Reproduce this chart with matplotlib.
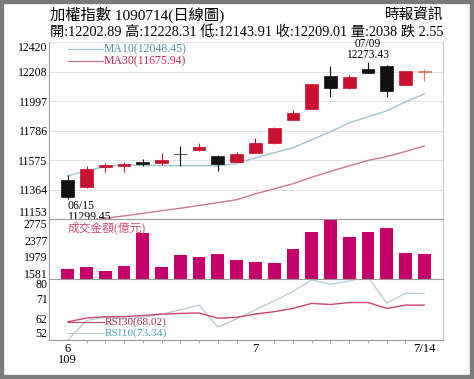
import matplotlib
matplotlib.use('Agg')
import matplotlib.pyplot as plt
from matplotlib.patches import Rectangle
import numpy as np

plt.rcParams['font.family'] = ['Liberation Serif', 'Noto Sans CJK TC']

# 加權指數 日線資料 (6/15 ~ 7/14)
dates = ['06/15', '06/16', '06/17', '06/18', '06/19', '06/22', '06/23', '06/24', '06/29', '06/30',
         '07/01', '07/02', '07/03', '07/06', '07/07', '07/08', '07/09', '07/10', '07/13', '07/14']
opens = [11434, 11379, 11522, 11532, 11560, 11555, 11618, 11648, 11607, 11564,
         11625, 11696, 11863, 11943, 12179, 12089, 12225, 12251, 12113, 12202.89]
highs = [11469, 11534, 11557, 11564, 11584, 11625, 11677, 11700, 11610, 11632,
         11732, 11812, 11934, 12122, 12249, 12184, 12273.43, 12255, 12215, 12228.31]
lows = [11299.45, 11375, 11486, 11491, 11534, 11541, 11529, 11641, 11500, 11560,
        11622, 11690, 11860, 11940, 12029, 12086, 12195, 12029, 12110, 12143.91]
closes = [11307, 11510, 11536, 11546, 11548, 11572, 11615, 11665, 11546, 11619,
          11700, 11805, 11911, 12118, 12094, 12170, 12197, 12072, 12211.56, 12209.01]

ma10 = [11462, 11498, 11527, 11541, 11536, 11535, 11534, 11534, 11534, 11549,
        11591, 11627, 11663, 11720, 11777, 11842, 11884, 11927, 11991, 12048.45]
ma30 = [11120, 11140, 11158, 11175, 11193, 11212, 11230, 11250, 11270, 11291,
        11333, 11369, 11405, 11452, 11493, 11534, 11572, 11600, 11636, 11675.94]

volume = [1678, 1726, 1637, 1759, 2549, 1734, 2009, 1968, 2041, 1896,
          1847, 1823, 2170, 2574, 2880, 2453, 2582, 2687, 2065, 2038]

rsi30 = [60.3, 62.1, 62.7, 62.7, 63.2, 63.9, 64.2, 64.4, 62.0, 62.4,
         63.9, 65.0, 66.5, 68.8, 68.3, 69.2, 69.2, 66.5, 68.0, 68.02]
rsi10 = [52.0, 60.9, 62.4, 61.7, 62.4, 63.8, 65.9, 68.0, 57.9, 61.7,
         65.9, 70.0, 74.2, 79.5, 77.6, 79.1, 81.0, 68.9, 73.5, 73.34]

price_ticks = [11153, 11364, 11575, 11786, 11997, 12208, 12420]
vol_ticks = [1581, 1979, 2377, 2775]
rsi_ticks = [52, 62, 71, 80]

RED = '#c8102e'
BLACK = '#111111'
VOLC = '#c5006a'
MA10C = '#9cc3cf'
MA30C = '#c9788a'
GRAY = '#9a9a9a'

x = np.arange(len(dates))

fig = plt.figure(figsize=(4.74, 3.79), dpi=100)
W, H = 474, 379

def box(l, t, r, b):
    return [l / W, 1 - b / H, (r - l) / W, (b - t) / H]

ax1 = fig.add_axes(box(49, 42, 443, 219))
ax2 = fig.add_axes(box(49, 219, 443, 279), sharex=ax1)
ax3 = fig.add_axes(box(49, 279, 443, 340), sharex=ax1)

# ---- K線 ----
for i in range(len(dates)):
    o, h, l, c = opens[i], highs[i], lows[i], closes[i]
    if i == len(dates) - 1:
        col = '#e0705a'
    elif c >= o and abs(c - o) > 5:
        col = RED
    else:
        col = BLACK
    ax1.vlines(x[i], l, h, color=col, linewidth=0.8, zorder=3)
    body = max(abs(c - o), 4)
    ax1.bar(x[i], body, bottom=min(o, c), width=0.68, color=col,
            edgecolor=col, linewidth=0.5, zorder=4)

ax1.plot(x, ma10, color=MA10C, linewidth=1.0, zorder=2)
ax1.plot(x, ma30, color=MA30C, linewidth=1.0, zorder=2)
ax1.set_ylim(11153, 12420)
ax1.set_yticks(price_ticks)
ax1.grid(axis='y', color='#e3e3e3', linewidth=0.8)

ax1.plot([0.048, 0.137], [0.96, 0.96], color=MA10C, linewidth=0.9, transform=ax1.transAxes)
ax1.plot([0.048, 0.137], [0.89, 0.89], color=MA30C, linewidth=0.9, transform=ax1.transAxes)
ax1.text(0.138, 0.96, 'MA10(%.2f)' % ma10[-1], color='#4f93aa', fontsize=8.5,
         va='center', ha='left', transform=ax1.transAxes)
ax1.text(0.138, 0.89, 'MA30(%.2f)' % ma30[-1], color='#c2274d', fontsize=8.5,
         va='center', ha='left', transform=ax1.transAxes)

ax1.text(x[0], lows[0] - 55, dates[0], fontsize=8.5, ha='left', va='center', zorder=6)
ax1.text(x[0], lows[0] - 132, '%.2f' % lows[0], fontsize=8.5, ha='left', va='center',
         zorder=6, clip_on=False)
ax1.text(x[16], highs[16] + 132, dates[16], fontsize=8.3, ha='center', va='center',
         clip_on=False)
ax1.text(x[16], highs[16] + 54, '%.2f' % highs[16], fontsize=8.3, ha='center', va='center')

# ---- 成交金額 ----
ax2.bar(x, volume, width=0.68, color=VOLC, zorder=3)
ax2.set_ylim(1436, 2896)
ax2.set_yticks(vol_ticks)
ax2.text(0.048, 0.85, '成交金額(億元)', color='#d24a7a', fontsize=8.5,
         ha='left', va='center', transform=ax2.transAxes)

# ---- RSI ----
ax3.plot(x, rsi10, color='#b2cbd3', linewidth=0.9)
ax3.plot(x, rsi30, color='#c8456e', linewidth=1.0)
ax3.set_ylim(52, 80)
ax3.set_yticks(rsi_ticks)
ax3.plot([0.048, 0.14], [0.29, 0.29], color='#c8456e', linewidth=0.8, transform=ax3.transAxes)
ax3.plot([0.048, 0.14], [0.11, 0.11], color='#b2cbd3', linewidth=0.8, transform=ax3.transAxes)
ax3.text(0.142, 0.29, 'RSI30(%.2f)' % rsi30[-1], color='#b8285e', fontsize=8.2,
         ha='left', va='center', transform=ax3.transAxes)
ax3.text(0.142, 0.11, 'RSI10(%.2f)' % rsi10[-1], color='#4aa3ba', fontsize=8.2,
         ha='left', va='center', transform=ax3.transAxes)

ax3.set_xlim(-1, 20)
ax3.set_xticks([0, 10, 19])
ax3.set_xticklabels(['6\n109', '7', '7/14'], fontsize=9, linespacing=0.95)
ax3.set_xticks(x, minor=True)
ax3.tick_params(axis='x', which='major', length=0, pad=2)
ax3.tick_params(axis='x', which='minor', length=2, color=GRAY)

for ax in (ax1, ax2, ax3):
    ax.tick_params(axis='y', length=0, pad=1, labelsize=8.5)
    for s in ('top', 'bottom'):
        ax.spines[s].set_visible(False)
    ax.spines['left'].set_color(GRAY)
    ax.spines['right'].set_color('#c8c8c8')
    ax.set_facecolor('none')
# 上下邊界的刻度文字往內縮
for ax in (ax1, ax3):
    labels = ax.get_yticklabels()
    labels[0].set_va('bottom')
    labels[-1].set_va('top')
for ax in (ax1, ax2):
    ax.tick_params(axis='x', which='both', bottom=False, labelbottom=False)
ax2.spines['top'].set_visible(True)
ax2.spines['top'].set_color(GRAY)
ax3.spines['top'].set_visible(True)
ax3.spines['top'].set_color(GRAY)
ax3.spines['bottom'].set_visible(True)
ax3.spines['bottom'].set_color(GRAY)

# ---- 標題 ----
fig.text(50 / W, 1 - 15 / H, '加權指數 1090714(日線圖)', fontsize=11, ha='left', va='center')
fig.text(50 / W, 1 - 32 / H,
         '開:%.2f 高:%.2f 低:%.2f 收:%.2f 量:%d 跌 2.55' % (opens[-1], highs[-1], lows[-1], closes[-1], volume[-1]),
         fontsize=10.3, ha='left', va='center')
fig.text(443 / W, 1 - 16 / H, '時報資訊', fontsize=10.5, ha='right', va='center')

fig.patches.append(Rectangle((0, 0), 1, 1, transform=fig.transFigure, fill=False,
                             edgecolor='#7a7a7a', linewidth=6))

fig.savefig('out.png', dpi=100)
